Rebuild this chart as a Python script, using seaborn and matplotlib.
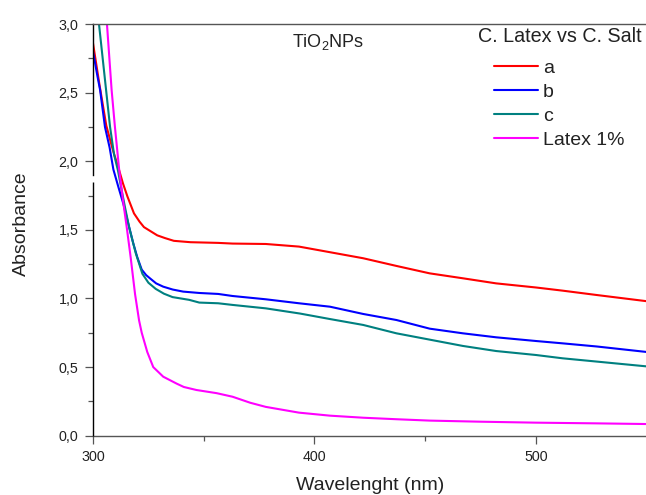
import numpy as np
import pandas as pd
import matplotlib
matplotlib.use("Agg")
import matplotlib.pyplot as plt
from matplotlib.ticker import FuncFormatter, MultipleLocator
from matplotlib.lines import Line2D
import seaborn as sns

# ---------------- data ----------------
a_x = [300, 303, 306, 309, 311.7, 313.5, 315.5, 318.5, 321, 323, 326, 329, 332.5,
       336.5, 344, 356.5, 363, 378, 393, 407, 422, 437, 452, 467, 482, 500, 512,
       527.5, 550]
a_y = [2.86, 2.55, 2.26, 2.08, 1.94, 1.84, 1.745, 1.62, 1.56, 1.52, 1.49, 1.46, 1.44,
       1.42, 1.41, 1.405, 1.40, 1.397, 1.378, 1.337, 1.293, 1.237, 1.183, 1.147, 1.11,
       1.08, 1.057, 1.025, 0.98]

b_x = [300, 302, 303.2, 305.4, 307.5, 309.2, 311.5, 313.7, 316, 318.2, 320, 322, 324,
       325.7, 328.5, 331.7, 336, 340.7, 348, 356.5, 363, 378, 393, 407, 422, 437, 452,
       467, 482, 500, 512, 527.5, 550]
b_y = [2.80, 2.62, 2.52, 2.25, 2.10, 1.94, 1.81, 1.69, 1.54, 1.40, 1.30, 1.21, 1.17,
       1.147, 1.11, 1.086, 1.065, 1.05, 1.04, 1.033, 1.018, 0.994, 0.965, 0.94, 0.887,
       0.843, 0.78, 0.746, 0.717, 0.69, 0.673, 0.65, 0.61]

c_x = [300, 302.7, 304.3, 305.9, 307.7, 309.5, 311.3, 312.8, 314.5, 316.3, 319.3, 322.3,
       325, 328.3, 332, 335.9, 343.4, 348, 356.5, 363, 378, 393.5, 407, 422, 437, 452,
       467, 482, 500, 512, 527.5, 550]
c_y = [3.40, 3.00, 2.76, 2.52, 2.25, 2.05, 1.93, 1.80, 1.66, 1.52, 1.33, 1.18,
       1.115, 1.07, 1.035, 1.01, 0.99, 0.97, 0.965, 0.953, 0.928, 0.89, 0.85, 0.807,
       0.746, 0.70, 0.654, 0.617, 0.588, 0.564, 0.54, 0.505]

l_x = [304, 306.3, 308.4, 309.9, 311.8, 313.5, 315.3, 317, 319, 320.8, 322, 324.5,
       327.2, 331.7, 337.7, 341, 346.7, 355.8, 363, 371, 378, 393, 407, 422, 437, 452,
       475, 500, 527, 550]
l_y = [3.45, 3.00, 2.52, 2.25, 1.94, 1.72, 1.51, 1.30, 1.03, 0.84, 0.75, 0.61,
       0.50, 0.43, 0.38, 0.355, 0.333, 0.31, 0.284, 0.24, 0.21, 0.168, 0.146, 0.131,
       0.12, 0.11, 0.102, 0.095, 0.09, 0.085]

series_names = ["a", "b", "c", "Latex 1%"]
series_colors = ["#FF0000", "#0000FF", "#008080", "#FF00FF"]

x_ticks = [300, 400, 500]
y_ticks = [0.0, 0.5, 1.0, 1.5, 2.0, 2.5, 3.0]

frames = []
for name, xs, ys in zip(series_names, [a_x, b_x, c_x, l_x], [a_y, b_y, c_y, l_y]):
    frames.append(pd.DataFrame({"Wavelength": xs, "Absorbance": ys, "Sample": name}))
df = pd.concat(frames, ignore_index=True)

# ---------------- style ----------------
sns.set_style("white")
plt.rcParams["font.family"] = ["Liberation Sans", "DejaVu Sans"]
plt.rcParams["mathtext.fontset"] = "custom"
plt.rcParams["mathtext.rm"] = "Liberation Sans"
plt.rcParams["mathtext.it"] = "Liberation Sans"
plt.rcParams["mathtext.bf"] = "Liberation Sans"

fig = plt.figure(figsize=(6.46, 4.95), dpi=100)
ax = fig.add_axes([93 / 646, 1 - 435.7 / 495, (646.75 - 93) / 646, (435.7 - 24) / 495])

sns.lineplot(data=df, x="Wavelength", y="Absorbance", hue="Sample",
             palette=dict(zip(series_names, series_colors)), estimator=None,
             sort=False, linewidth=1.5, ax=ax, legend=False)

ax.set_xlim(300, 550)
ax.set_ylim(0, 3.0)
ax.set_xticks(x_ticks)
ax.set_yticks(y_ticks)
ax.xaxis.set_minor_locator(MultipleLocator(50))
ax.yaxis.set_minor_locator(MultipleLocator(0.25))
ax.yaxis.set_major_formatter(FuncFormatter(lambda v, p: f"{v:.1f}".replace(".", ",")))

tick_color = "#555555"
ax.tick_params(axis="both", which="major", direction="out", length=6, width=0.9,
               color=tick_color, labelsize=10.3, labelcolor="#222222", pad=4.5)
ax.tick_params(axis="both", which="minor", direction="out", length=3.3, width=0.9,
               color=tick_color)
ax.tick_params(axis="x", which="both", bottom=True, top=False)
ax.tick_params(axis="y", which="both", left=True, right=False)

for side in ["top", "bottom"]:
    ax.spines[side].set_color("#555555")
    ax.spines[side].set_linewidth(1.0)
ax.spines["right"].set_visible(False)
ax.spines["left"].set_color("black")
ax.spines["left"].set_linewidth(1.0)
ax.spines["left"].set_bounds(1.90, 3.0)
# lower part of the broken y axis
ax.plot([300, 300], [0, 1.85], color="black", linewidth=1.0, clip_on=False,
        solid_capstyle="butt", zorder=3)

ax.set_xlabel("Wavelenght (nm)", fontsize=14, color="#222222")
ax.set_ylabel("Absorbance", fontsize=14, color="#222222")
ax.xaxis.set_label_coords(0.5, -0.1)
ax.yaxis.set_label_coords(-0.114, 0.514)

ax.text(0.359, 0.943, r"TiO$_2$NPs", transform=ax.transAxes, fontsize=13,
        ha="left", va="baseline", color="#222222")

# legend title as its own text, entries below
ax.text(0.8424, 0.9573, "C. Latex vs C. Salt", transform=ax.transAxes,
        fontsize=14.2, ha="center", va="baseline", color="#222222")
handles = [Line2D([0], [0], color=c, linewidth=1.5) for c in series_colors]
leg = ax.legend(handles, series_names, loc="upper left",
                bbox_to_anchor=(0.7242, 0.915),
                frameon=False, fontsize=14,
                handlelength=2.25, handletextpad=0.27, labelspacing=0.33,
                borderpad=0, borderaxespad=0)
for t in leg.get_texts():
    t.set_color("#222222")

fig.savefig("out.png", dpi=100)
